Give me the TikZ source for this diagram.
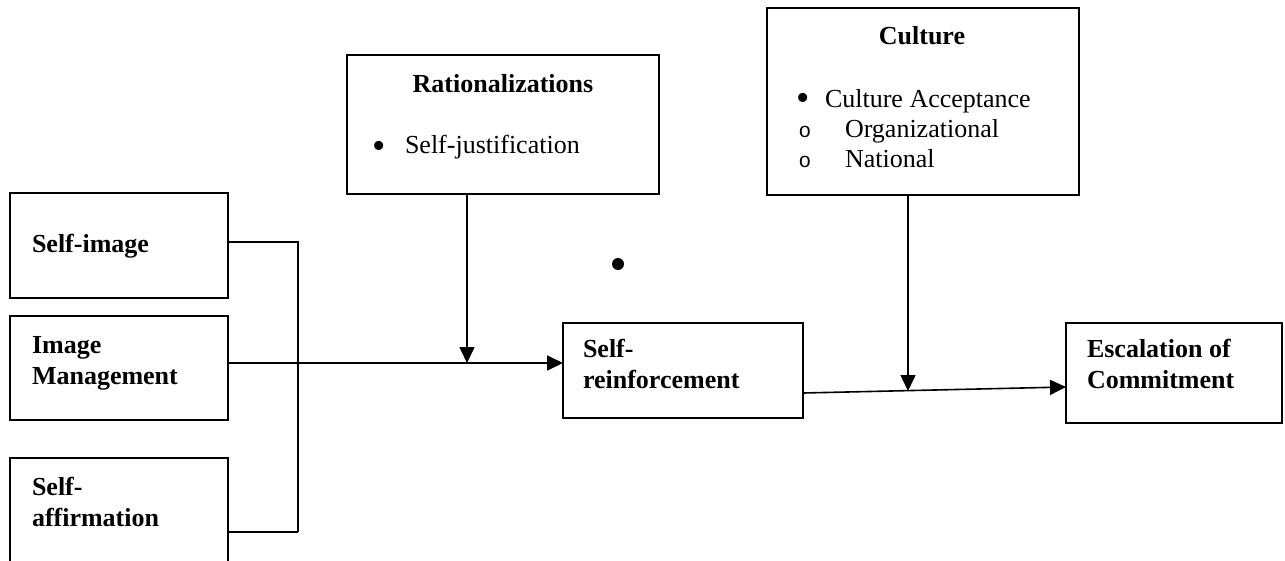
\documentclass[tikz,border=0pt]{standalone}
\usepackage{fontspec}
\setmainfont{Liberation Serif}
\newfontfamily\monofnt{Liberation Mono}
\usetikzlibrary{arrows.meta}
\tikzset{
  box/.style={draw, line width=1.6pt, anchor=north west, inner sep=0pt, outer sep=0pt},
  lbl/.style={anchor=base west, inner sep=0pt, outer sep=0pt, font=\fontsize{26}{31}\selectfont},
  blbl/.style={lbl, font=\fontsize{26}{31}\selectfont\bfseries},
  bul/.style={anchor=base, inner sep=0pt, outer sep=0pt, font=\fontsize{38}{31}\selectfont},
  sub/.style={anchor=base, inner sep=0pt, outer sep=0pt, font=\fontsize{21}{31}\monofnt},
  conn/.style={line width=1.6pt},
  arr/.style={line width=1.6pt, -{Triangle[length=16pt,width=15pt]}}
}
\begin{document}
\begin{tikzpicture}[x=1pt,y=-1pt]
\useasboundingbox (0,0) rectangle (1285,560);
\clip (0,0) rectangle (1285,560);
% boxes
\node[box, minimum width=218pt, minimum height=105pt] (selfimage) at (10,193) {};
\node[box, minimum width=218pt, minimum height=104pt] (imgmgmt) at (10,316) {};
\node[box, minimum width=218pt, minimum height=120pt] (selfaff) at (10,458) {};
\node[box, minimum width=312pt, minimum height=139pt] (rat) at (347,55) {};
\node[box, minimum width=312pt, minimum height=187pt] (cult) at (767,8) {};
\node[box, minimum width=240pt, minimum height=95pt] (sr) at (563,323) {};
\node[box, minimum width=216pt, minimum height=100pt] (esc) at (1066,323) {};
% texts
\node[blbl] (t1) at (32,252) {Self-image};
\node[blbl] (t2) at (32,353) {Image};
\node[blbl] (t3) at (32,384) {Management};
\node[blbl] (t4) at (32,495) {Self-};
\node[blbl] (t5) at (32,526) {affirmation};
\node[blbl, anchor=base] (t6) at (503,92) {Rationalizations};
\node[bul] (b1) at (379,158) {•};
\node[lbl] (t7) at (405,153) {Self-justification};
\node[blbl, anchor=base] (t8) at (922,44) {Culture};
\node[bul] (b2) at (803,110) {•};
\node[lbl] (t9) at (825,107) {Culture Acceptance};
\node[sub] (b3) at (805,137) {o};
\node[lbl] (t10) at (845,137) {Organizational};
\node[sub] (b4) at (805,167) {o};
\node[lbl] (t11) at (845,167) {National};
\node[blbl] (t12) at (583,357) {Self-};
\node[blbl] (t13) at (583,388) {reinforcement};
\node[blbl] (t14) at (1087,357) {Escalation of};
\node[blbl] (t15) at (1087,388) {Commitment};
% stray bullet
\node[circle, fill, minimum size=12pt, inner sep=0pt] (dot) at (618,264) {};
% connectors
\coordinate (j1) at (298,242);
\coordinate (j2) at (298,363);
\coordinate (j3) at (298,532);
\coordinate (m1) at (467,363);
\coordinate (srout) at (803,393);
\coordinate (m2) at (908,391);
\draw[conn] (selfimage.east |- j1) -- (j1) -- (j3);
\draw[conn] (imgmgmt.east |- j2) -- (j2);
\draw[conn] (selfaff.east |- j3) -- (j3);
\draw[arr] (j2) -- (sr.west |- j2);
\draw[arr] (rat.south -| m1) -- (m1);
\draw[arr] (srout) -- (1066,387);
\draw[arr] (cult.south -| m2) -- (m2);
\end{tikzpicture}
\end{document}
